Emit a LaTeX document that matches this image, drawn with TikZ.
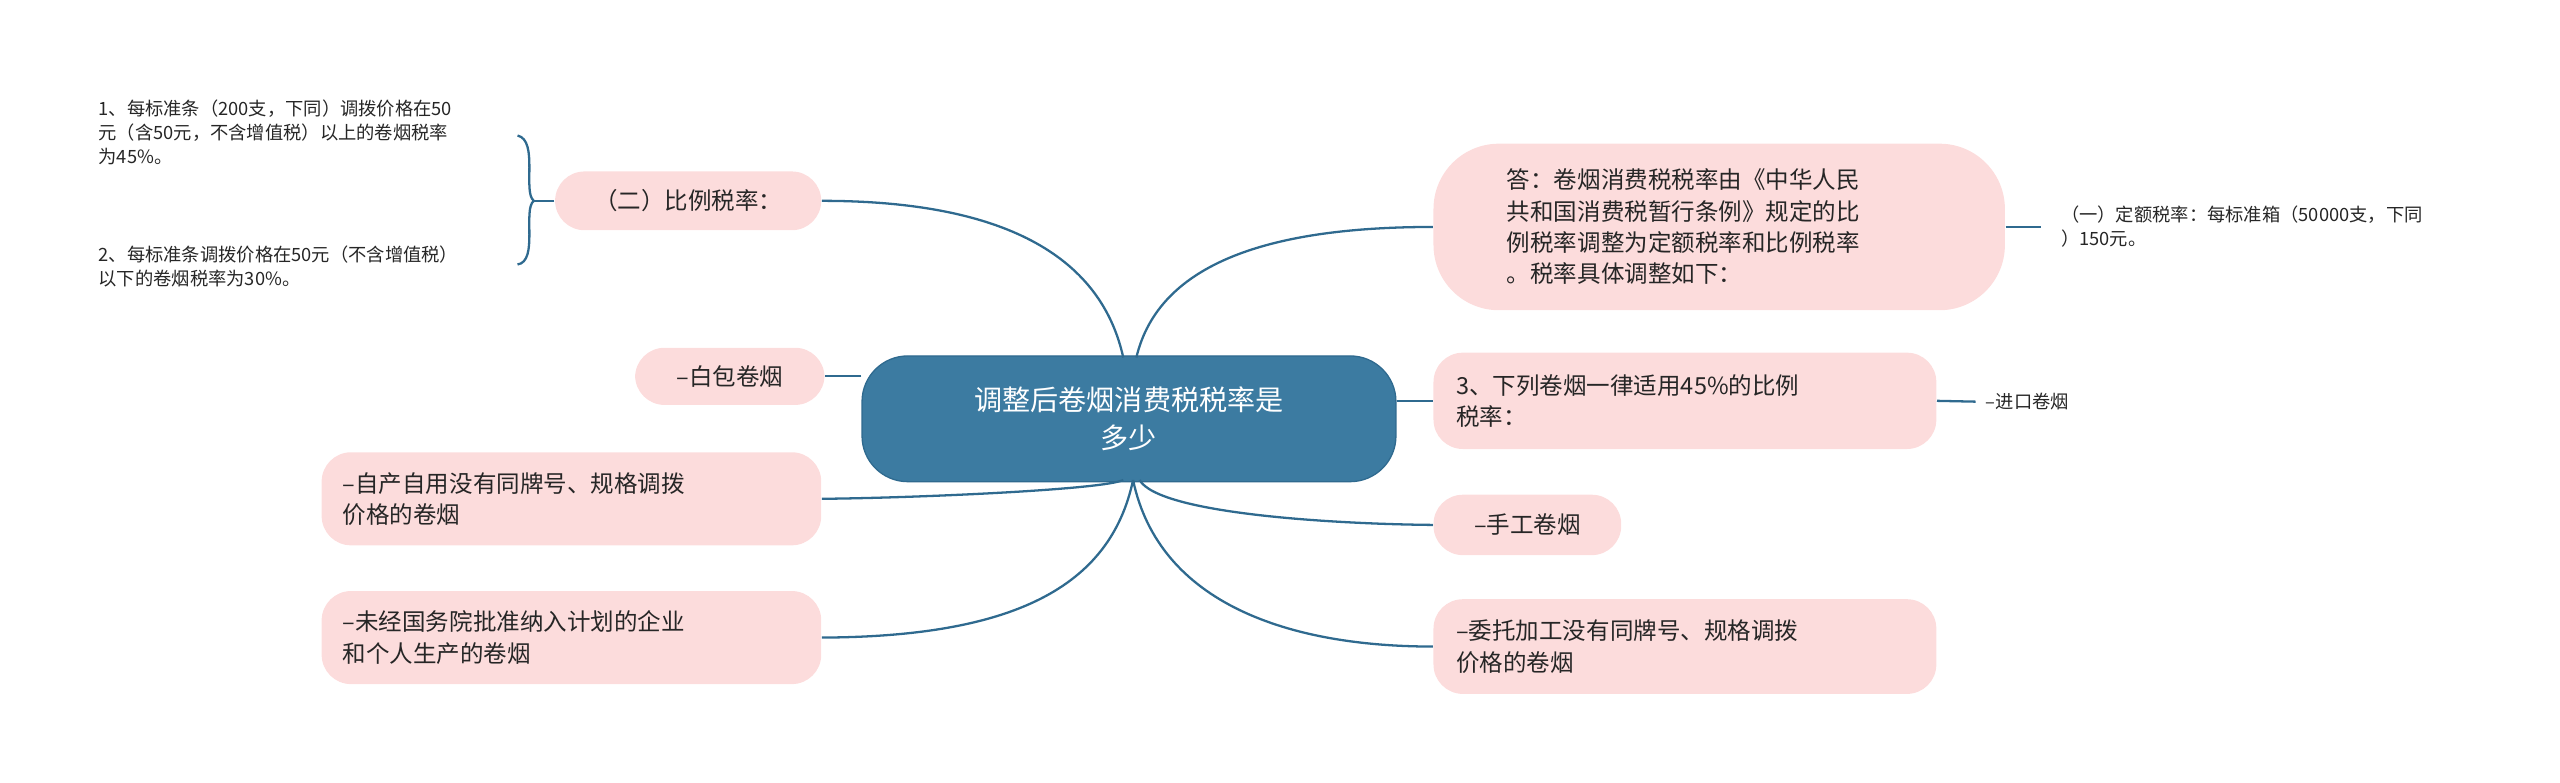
\documentclass[tikz,border=0pt]{standalone}
\usepackage{fontspec}
\setmainfont{Noto Sans CJK SC}
\begin{document}
\begin{tikzpicture}[x=0.5pt,y=-0.5pt,
  pill/.style={fill=pinkc,rounded corners=9pt,inner sep=0pt,font=\fontsize{7.2pt}{9.6pt}\selectfont,align=left,text=black!85},
  small/.style={inner sep=0pt,font=\fontsize{5.6pt}{7.3pt}\selectfont,align=left,text=black!85,anchor=north west},
  conn/.style={draw=linec,line width=0.7pt}]
\definecolor{pinkc}{HTML}{FCDCDC}
\definecolor{linec}{HTML}{2F6A8F}
\definecolor{centc}{HTML}{3C7BA1}
\useasboundingbox (0,0) rectangle (1568,479);
\node[fill=centc,draw=linec,rounded corners=14pt,minimum width=163.5pt,minimum height=38.5pt,text=white,align=center,font=\fontsize{8.6pt}{11.5pt}\selectfont] (c) at (691.5,256.5) {调整后卷烟消费税税率是\\多少};
\node[pill,minimum width=81.5pt,minimum height=18pt,align=center] (b2) at (421.5,123) {（二）比例税率：};
\node[pill,minimum width=58pt,minimum height=17.5pt,align=center] (bb) at (447,230.5) {--白包卷烟};
\node[pill,minimum width=153pt,minimum height=28.5pt,text width=140pt] (zc) at (350,305.5) {--自产自用没有同牌号、规格调拨\\价格的卷烟};
\node[pill,minimum width=153pt,minimum height=28.5pt,text width=140pt] (wj) at (350,390.5) {--未经国务院批准纳入计划的企业\\和个人生产的卷烟};
\node[pill,rounded corners=20pt,minimum width=175pt,minimum height=51pt,text width=130pt] (da) at (1053,139) {答：卷烟消费税税率由《中华人民\\共和国消费税暂行条例》规定的比\\例税率调整为定额税率和比例税率\\。税率具体调整如下：};
\node[pill,minimum width=154pt,minimum height=29.5pt,text width=140pt] (s3) at (1032,245.5) {3、下列卷烟一律适用45\%的比例\\税率：};
\node[pill,minimum width=57.5pt,minimum height=18.5pt,align=center] (sg) at (935.5,321.5) {--手工卷烟};
\node[pill,minimum width=154pt,minimum height=29pt,text width=140pt] (wt) at (1032,396) {--委托加工没有同牌号、规格调拨\\价格的卷烟};
\node[small] (t1) at (60,61) {1、每标准条（200支，下同）调拨价格在50\\元（含50元，不含增值税）以上的卷烟税率\\为45\%。};
\node[small] (t2) at (60,150) {2、每标准条调拨价格在50元（不含增值税）\\以下的卷烟税率为30\%。};
\node[small,anchor=west] (t3) at (1262,139) {（一）定额税率：每标准箱（50000支，下同\\）150元。};
\node[small,anchor=west] (t4) at (1216,246) {--进口卷烟};
\coordinate (br) at (327,123);
\draw[conn] (b2.west) -- (br);
\draw[conn] (317,83) .. controls (330,86) and (320,118) .. (br) .. controls (320,128) and (330,160) .. (317,162);
\draw[conn] (da.east) -- (1250,139);
\draw[conn] (s3.east) -- (1210,246);
\draw[conn] (688,219) .. controls (675,160) and (620,123) .. (b2.east);
\draw[conn] (c.west|-bb.east) -- (bb.east);
\draw[conn] (688,294) .. controls (675,300) and (560,305) .. (zc.east);
\draw[conn] (694,294) .. controls (680,360) and (620,390) .. (wj.east);
\draw[conn] (696,219) .. controls (710,160) and (780,139) .. (da.west);
\draw[conn] (c.east|-s3.west) -- (s3.west);
\draw[conn] (698,294) .. controls (710,315) and (820,321) .. (sg.west);
\draw[conn] (694,294) .. controls (710,370) and (790,396) .. (wt.west);
\end{tikzpicture}
\end{document}
